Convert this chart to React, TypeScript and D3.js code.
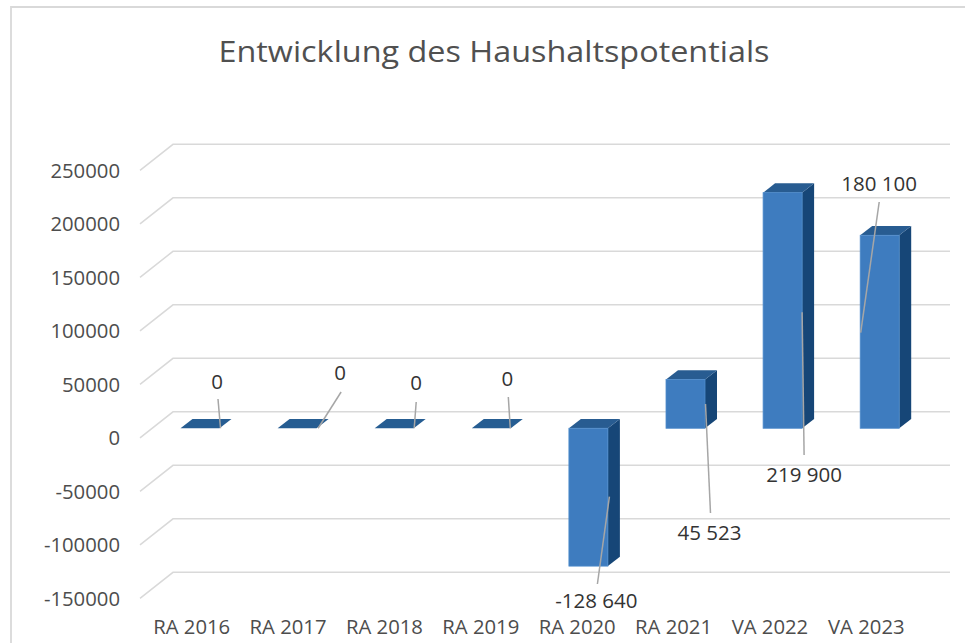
import React from "react";
import * as d3 from "d3";

const categories = ["RA 2016", "RA 2017", "RA 2018", "RA 2019", "RA 2020", "RA 2021", "VA 2022", "VA 2023"];
const values = [0, 0, 0, 0, -128640, 45523, 219900, 180100];
const valueLabels = ["0", "0", "0", "0", "-128 640", "45 523", "219 900", "180 100"];
const yTicks = [-150000, -100000, -50000, 0, 50000, 100000, 150000, 200000, 250000];
const title = "Entwicklung des Haushaltspotentials";

// layout of data labels (offsets from bar centre, absolute y) — positions only
const labelLayout = [
  { dx: 17, ly: 382, sx: 18, sy: 399, ex: 20.5, ey: "base" },
  { dx: 43, ly: 373, sx: 44, sy: 392, ex: 21, ey: "base" },
  { dx: 22, ly: 383, sx: 22, sy: 402, ex: 20, ey: "base" },
  { dx: 16, ly: 379, sx: 17, sy: 397, ex: 19, ey: "base" },
  { dx: 8, ly: 601, sx: 9, sy: 584, ex: 21, ey: 496.7 },
  { dx: 24, ly: 533, sx: 25, sy: 513, ex: 20, ey: 404 },
  { dx: 21.5, ly: 475, sx: 21.5, sy: 455, ex: 19.5, ey: 312.3 },
  { dx: -0.5, ly: 184, sx: -0.5, sy: 202, ex: -19, ey: 332.7 },
];

const W = 965;
const H = 643;
const FONT = "'Open Sans', 'Noto Sans', sans-serif";

export default function App() {
  const yGrid = d3.scaleLinear().domain([-150000, 250000]).range([572.3, 144.3]);
  const yBar = d3.scaleLinear().domain([-150000, 250000]).range([589, 160.4]);
  const xBar = d3.scalePoint<string>().domain(categories).range([200, 879.7]);
  const xLab = d3.scalePoint<string>().domain(categories).range([191.7, 866.3]);

  const bw = 39;
  const ddx = 12;
  const ddy = -9.3;
  const gLeft = 140;
  const gDx = 33;
  const gDy = -26;
  const gRight = 950;

  const front = "#3e7cbf";
  const side = "#164677";
  const top = "#285c91";

  const zeroY = yBar(0);

  return (
    <svg
      width={W}
      height={H}
      style={{ position: "absolute", left: 0, top: 0, background: "#ffffff" }}
    >
      <rect x={0} y={0} width={W} height={H} fill="#ffffff" />
      {/* chart frame */}
      <path d={`M11,${H + 5} L11,7 L${W + 5},7`} fill="none" stroke="#d9d9d9" strokeWidth={1.8} />

      <text
        x={494}
        y={62}
        textAnchor="middle"
        fontFamily={FONT}
        fontSize={29.5}
        fill="#505050"
        textLength={551}
        lengthAdjust="spacingAndGlyphs"
      >
        {title}
      </text>

      {/* gridlines */}
      {yTicks.map((t) => {
        const yb = yGrid(t);
        return (
          <path
            key={"g" + t}
            d={`M${gLeft},${yb - gDy} L${gLeft + gDx},${yb} L${gRight},${yb}`}
            fill="none"
            stroke="#d9d9d9"
            strokeWidth={1.5}
          />
        );
      })}

      {/* y tick labels */}
      {yTicks.map((t) => (
        <text
          key={"t" + t}
          x={120}
          y={yGrid(t) - gDy}
          dy="0.36em"
          textAnchor="end"
          fontFamily={FONT}
          fontSize={20.3}
          fill="#4d4d4d"
        >
          {t}
        </text>
      ))}

      {/* bars */}
      {categories.map((c, i) => {
        const cx = xBar(c) as number;
        const x0 = cx - bw / 2;
        const x1 = cx + bw / 2;
        const yv = yBar(values[i]);
        const yTop = Math.min(yv, zeroY);
        const yBot = Math.max(yv, zeroY);
        const hasHeight = yBot - yTop > 0.5;
        return (
          <g key={"b" + c}>
            {hasHeight && (
              <path
                d={`M${x1},${yTop} L${x1 + ddx},${yTop + ddy} L${x1 + ddx},${yBot + ddy} L${x1},${yBot} Z`}
                fill={side}
              />
            )}
            <path
              d={`M${x0},${yTop} L${x0 + ddx},${yTop + ddy} L${x1 + ddx},${yTop + ddy} L${x1},${yTop} Z`}
              fill={hasHeight ? top : "#265d92"}
            />
            {hasHeight && (
              <rect
                x={x0}
                y={yTop}
                width={bw}
                height={yBot - yTop}
                fill={front}
                stroke="#4f8ccc"
                strokeWidth={0.8}
              />
            )}
          </g>
        );
      })}

      {/* data labels with leader lines */}
      {categories.map((c, i) => {
        const cx = xBar(c) as number;
        const L = labelLayout[i];
        const ey = L.ey === "base" ? zeroY : (L.ey as number);
        return (
          <g key={"l" + c}>
            <line
              x1={cx + L.sx}
              y1={L.sy}
              x2={cx + L.ex}
              y2={ey}
              stroke="#a6a6a6"
              strokeWidth={1.5}
            />
            <text
              x={cx + L.dx}
              y={L.ly}
              dy="0.36em"
              textAnchor="middle"
              fontFamily={FONT}
              fontSize={20.5}
              fill="#333333"
            >
              {valueLabels[i]}
            </text>
          </g>
        );
      })}

      {/* category labels */}
      {categories.map((c) => (
        <text
          key={"c" + c}
          x={xLab(c) as number}
          y={634}
          textAnchor="middle"
          fontFamily={FONT}
          fontSize={20.3}
          fill="#4d4d4d"
        >
          {c}
        </text>
      ))}
    </svg>
  );
}
